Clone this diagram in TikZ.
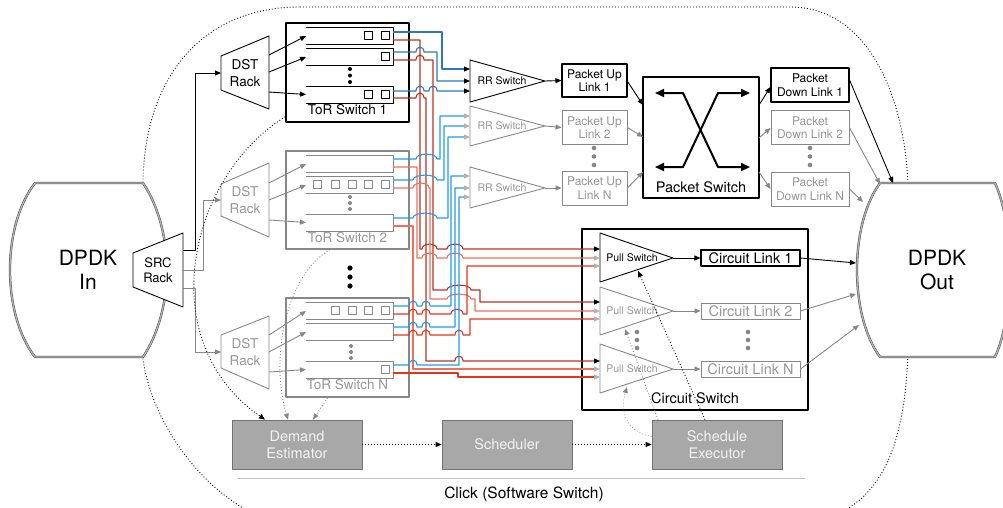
\documentclass[tikz,border=0pt]{standalone}
\usepackage{fontspec}
\setmainfont{TeX Gyre Heros}
\usetikzlibrary{arrows.meta}
\definecolor{ina}{RGB}{135,135,135}
\definecolor{inatx}{RGB}{150,150,150}
\definecolor{tipg}{RGB}{178,178,178}
\definecolor{redA}{RGB}{185,50,30}
\definecolor{redB}{RGB}{240,112,92}
\definecolor{redC}{RGB}{228,52,25}
\definecolor{blueA}{RGB}{45,120,185}
\definecolor{blueB}{RGB}{30,155,240}
\definecolor{boxf}{RGB}{168,168,168}
\definecolor{boxd}{RGB}{115,115,115}
\definecolor{boxt}{RGB}{242,242,242}
\newcommand\fs[2]{\fontsize{#1}{#2}\selectfont}
\newcommand\hop[3]{-- (#1,#3) .. controls (#1,#3-6.5) and (#2,#3-6.5) .. (#2,#3)}
\begin{document}
\begin{tikzpicture}[x=1pt,y=-1pt,line join=round,
  ablk/.style={-{Triangle[length=6pt,width=5pt,color=black]}},
  agry/.style={-{Triangle[length=6pt,width=5pt,color=tipg]}},
  agin/.style={-{Triangle[length=6pt,width=5pt,color=ina]}},
  sact/.style={draw=black,line width=0.9pt},
  sina/.style={draw=ina,line width=0.9pt},
  boxA/.style={draw=black,line width=1.6pt,inner sep=0pt},
  boxG/.style={draw=ina,line width=1.6pt,inner sep=0pt},
  wire/.style={line width=1.1pt},
  dotl/.style={dash pattern=on 0.9pt off 2.1pt,line width=0.9pt},
  txt/.style={inner sep=0pt,align=center},
  dpdk/.style={draw=black!70,line width=0.5pt,double=black!30,double distance=1.3pt,fill=white},
  lnk/.style={draw,line width=1.1pt,inner sep=0pt,align=center,font=\fs{12}{13.5}},
  gbox/.style={draw=boxd,fill=boxf,text=boxt,line width=0.8pt,minimum width=130pt,minimum height=49pt,inner sep=0pt,align=center,font=\fs{14.5}{17}},
]
\useasboundingbox (0,0) rectangle (1003,507);
\clip (0,0) rectangle (1003,507);

% ---------- outer software-switch boundary
\draw[dotl] (300,7) -- (790,7) .. controls (870,7) and (905,100) .. (908,185) -- (908,350)
  .. controls (905,450) and (880,520) .. (790,525) -- (300,525)
  .. controls (230,525) and (155,440) .. (143,360) -- (143,180)
  .. controls (145,80) and (200,7) .. (300,7) -- cycle;

% ---------- DPDK In / Out
\draw[dpdk] (35,183) -- (143,183) .. controls (158,205) and (167,238) .. (167,270)
  .. controls (167,302) and (158,335) .. (143,357) -- (35,357)
  .. controls (18,335) and (10,302) .. (10,270) .. controls (10,238) and (18,205) .. (35,183) -- cycle;
\node[txt,font=\fs{21}{24}] (dpdkin) at (88,270) {DPDK\\In};
\draw[dpdk] (880,183) -- (995,183) .. controls (1005,205) and (1010,238) .. (1010,270)
  .. controls (1010,302) and (1005,335) .. (995,357) -- (880,357)
  .. controls (864,335) and (857,302) .. (857,270) .. controls (857,238) and (864,205) .. (880,183) -- cycle;
\node[txt,font=\fs{21}{24}] (dpdkout) at (937,270) {DPDK\\Out};
\coordinate (outA) at (893,183);
\coordinate (outB) at (880,184);
\coordinate (outC) at (863,202);
\coordinate (outD) at (856,263);
\coordinate (outE) at (856,294);
\coordinate (outF) at (859,325);

% ---------- SRC rack
\draw[sact,fill=white] (133,253) -- (183,233) -- (183,307) -- (133,287) -- cycle;
\node[txt,font=\fs{13}{15}] (src) at (158,270) {SRC\\Rack};
\coordinate (srcA) at (183,250);
\coordinate (srcB) at (183,270);
\coordinate (srcC) at (183,288);

% ---------- DST racks
\draw[sact] (221,56) -- (269,36) -- (269,109) -- (221,90) -- cycle;
\node[txt,font=\fs{13.5}{16.5}] (dst1) at (245,73) {DST\\Rack};
\draw[sina] (221,184) -- (269,163) -- (269,237) -- (221,216) -- cycle;
\node[txt,font=\fs{13.5}{16.5},text=inatx] (dst2) at (245,200) {DST\\Rack};
\draw[sina] (221,335) -- (269,316) -- (269,389) -- (221,368) -- cycle;
\node[txt,font=\fs{13.5}{16.5},text=inatx] (dstN) at (245,352) {DST\\Rack};
\coordinate (dst1in) at (221,73);
\coordinate (dst2in) at (221,200);
\coordinate (dstNin) at (221,352);

\draw[sact,ablk] (srcA) -- (195,250) -- (195,73) -- (dst1in);
\draw[sina,agin] (srcB) -- (203,270) -- (203,200) -- (dst2in);
\draw[sina,agin] (srcC) -- (195,288) -- (195,352) -- (dstNin);

% ---------- ToR switches
\node[boxA,minimum width=123pt,minimum height=99pt] (tor1) at (347.5,72.5) {};
\node[txt,font=\fs{13.5}{16}] (tor1l) at (347.5,110) {ToR Switch 1};
\node[boxG,minimum width=123pt,minimum height=98pt] (tor2) at (347.5,200) {};
\node[txt,font=\fs{13.5}{16},text=inatx] (tor2l) at (347.5,238) {ToR Switch 2};
\node[boxG,minimum width=123pt,minimum height=99pt] (torN) at (347.5,347.5) {};
\node[txt,font=\fs{13.5}{16},text=inatx] (torNl) at (347.5,385) {ToR Switch N};

% rows
\foreach \t in {27,48,86}{\draw[sact] (306,\t) -- (393,\t) -- (393,\t+17) -- (306,\t+17);}
\foreach \t in {155,176,214,302,323,361}{\draw[sina] (306,\t) -- (393,\t) -- (393,\t+17) -- (306,\t+17);}
% port squares
\foreach \x/\y in {368/35.5,385/35.5,385/56.5,368/94.5,385/94.5}{\draw[draw=black,line width=0.8pt] (\x-4,\y-4) rectangle (\x+4,\y+4);}
\foreach \x/\y in {317/184.5,335/184.5,352/184.5,368/184.5,385/184.5,335/310.5,352/310.5,368/310.5,385/310.5,385/369.5}{\draw[draw=ina,line width=0.8pt] (\x-4,\y-4) rectangle (\x+4,\y+4);}
% dots
\foreach \y in {69,75.5,82}{\fill (350,\y) circle (2pt);}
\foreach \y in {197,203,209}{\fill[ina] (350,\y) circle (2pt);}
\foreach \y in {346,352,358}{\fill[ina] (351,\y) circle (2pt);}
\foreach \y in {268,277,286}{\fill (350,\y) circle (2.6pt);}

% DST -> rows
\draw[sact,ablk] (269,55) -- (306,36);
\draw[sact,ablk] (269,72) -- (306,57);
\draw[sact,ablk] (269,92) -- (306,94.5);
\draw[sina,agin] (269,183) -- (306,164);
\draw[sina,agin] (269,200) -- (306,185);
\draw[sina,agin] (269,220) -- (306,222.5);
\draw[sina,agin] (269,335) -- (306,311);
\draw[sina,agin] (269,352) -- (306,332);
\draw[sina,agin] (269,372) -- (306,369.5);

% ---------- RR switches
\draw[sact] (470,60) -- (545,81) -- (470,102) -- cycle;
\node[txt,font=\fs{10.5}{12}] (rr1) at (502,81) {RR Switch};
\draw[sina] (470,106) -- (545,126) -- (470,146) -- cycle;
\node[txt,font=\fs{10.5}{12},text=inatx] (rr2) at (502,126) {RR Switch};
\draw[sina] (470,167) -- (545,188) -- (470,208) -- cycle;
\node[txt,font=\fs{10.5}{12},text=inatx] (rrN) at (502,188) {RR Switch};
\coordinate (rr1a) at (470,69); \coordinate (rr1b) at (470,81); \coordinate (rr1c) at (470,91);
\coordinate (rr2a) at (470,116); \coordinate (rr2b) at (470,126); \coordinate (rr2c) at (470,137);
\coordinate (rrNa) at (470,176); \coordinate (rrNb) at (470,188); \coordinate (rrNc) at (470,197);

% ---------- Pull switches and circuit switch
\node[boxA,minimum width=226pt,minimum height=181pt] (cs) at (695,319.5) {};
\node[txt,font=\fs{14.5}{16}] (csl) at (695,398) {Circuit Switch};
\draw[sact] (600,233) -- (673,258) -- (600,282) -- cycle;
\node[txt,font=\fs{10.5}{12}] (pull1) at (632,258) {Pull Switch};
\draw[sina] (600,287) -- (673,311) -- (600,335) -- cycle;
\node[txt,font=\fs{10.5}{12},text=inatx] (pull2) at (632,311) {Pull Switch};
\draw[sina] (600,344) -- (673,369) -- (600,393) -- cycle;
\node[txt,font=\fs{10.5}{12},text=inatx] (pullN) at (632,369) {Pull Switch};
\coordinate (p1a) at (600,249); \coordinate (p1b) at (600,258); \coordinate (p1c) at (600,266);
\coordinate (p2a) at (600,302); \coordinate (p2b) at (600,311); \coordinate (p2c) at (600,319);
\coordinate (pNa) at (600,361); \coordinate (pNb) at (600,369); \coordinate (pNc) at (600,377);
\foreach \y in {332,340,348}{\fill[ina] (637,\y) circle (2.3pt); \fill[ina] (748,\y) circle (2.3pt);}

% ---------- wires: ToR row ports
\coordinate (t1b1) at (393,32);  \coordinate (t1r1) at (393,40);
\coordinate (t1b2) at (393,52);  \coordinate (t1r2) at (393,60);
\coordinate (t1b3) at (393,91);  \coordinate (t1r3) at (393,98);
\coordinate (t2b1) at (393,159); \coordinate (t2r1) at (393,167);
\coordinate (t2b2) at (393,180); \coordinate (t2r2) at (393,188);
\coordinate (t2b3) at (393,218); \coordinate (t2r3) at (393,226);
\coordinate (tNb1) at (393,306); \coordinate (tNr1) at (393,314);
\coordinate (tNb2) at (393,327); \coordinate (tNr2) at (393,335);
\coordinate (tNb3) at (393,365); \coordinate (tNr3) at (393,373);

% red wires
\draw[wire,redA,ablk] (t1r1) -- (420,40) -- (420,249) \hop{422}{437}{249} \hop{447}{463}{249} -- (p1a);
\draw[wire,redA,ablk] (t1r2) \hop{416}{424}{60} -- (433,60) -- (433,290) \hop{447}{471}{290} -- (480,290) -- (480,302) -- (p2a);
\draw[wire,redA,ablk] (t1r3) \hop{416}{424}{98} -- (426,98) -- (426,361) \hop{455}{463}{361} -- (pNa);
\draw[wire,redB,agry] (t2r1) -- (417,167) -- (417,258) \hop{422}{437}{258} \hop{447}{463}{258} -- (p1b);
\draw[wire,redB,agry] (t2r2) \hop{413}{429}{188} -- (430,188) -- (430,299) \hop{447}{471}{299} -- (475,299) -- (475,311) -- (p2b);
\draw[wire,redB,agry] (t2r3) -- (413,226) -- (413,369) -- (pNb);
\draw[wire,redC,agry] (tNr1) \hop{409}{417}{314} \hop{422}{430}{314} \hop{451}{463}{314} -- (467,314) -- (467,266) -- (p1c);
\draw[wire,redC,agry] (tNr2) \hop{409}{417}{335} \hop{422}{430}{335} \hop{455}{463}{335} -- (470,335) -- (470,319) -- (p2c);
\draw[wire,redC,agry] (tNr3) -- (458,373) -- (458,377) -- (pNc);

% blue wires
\draw[wire,blueA,ablk] (t1b1) -- (442,32) -- (442,69) -- (rr1a);
\draw[wire,blueA,ablk] (t1b2) \hop{416}{424}{52} -- (437,52) -- (437,81) -- (rr1b);
\draw[wire,blueA,ablk] (t1b3) \hop{416}{424}{91} \hop{429}{437}{91} -- (rr1c);
\draw[wire,blueB,agry] (t2b1) \hop{416}{437}{159} -- (440,159) -- (440,116) -- (rr2a);
\draw[wire,blueB,agry] (t2b2) \hop{413}{437}{180} -- (444,180) -- (444,126) -- (rr2b);
\draw[wire,blueB,agry] (t2b3) \hop{413}{437}{218} -- (448,218) -- (448,137) -- (rr2c);
\draw[wire,blueB,agry] (tNb1) \hop{409}{417}{306} \hop{422}{430}{306} -- (451,306) -- (451,176) -- (rrNa);
\draw[wire,blueB,agry] (tNb2) \hop{409}{417}{327} \hop{422}{430}{327} -- (455,327) -- (455,188) -- (rrNb);
\draw[wire,blueB,agry] (tNb3) \hop{409}{417}{365} -- (459,365) -- (459,197) -- (rrNc);

% ---------- packet up links, packet switch, down links
\node[lnk,draw=black,minimum width=65pt,minimum height=33pt] (up1) at (594.5,80.5) {Packet Up\\Link 1};
\node[lnk,draw=ina,text=inatx,line width=0.9pt,minimum width=65pt,minimum height=34pt] (up2) at (594.5,127.5) {Packet Up\\Link 2};
\node[lnk,draw=ina,text=inatx,line width=0.9pt,minimum width=65pt,minimum height=34pt] (upN) at (594.5,188) {Packet Up\\Link N};
\foreach \y in {148,156.5,165}{\fill[ina] (594,\y) circle (2.3pt); \fill[ina] (810,\y) circle (2.3pt);}
\draw[sact,ablk] (545,81) -- (up1.west);
\draw[sina,agin] (545,126) -- (up2.west);
\draw[sina,agin] (545,188) -- (upN.west);

\node[boxA,minimum width=116pt,minimum height=121pt] (ps) at (701,137.5) {};
\node[txt,font=\fs{14.5}{16}] (psl) at (701,187) {Packet Switch};
\draw[line width=2pt,{Triangle[length=9pt,width=8pt]}-{Triangle[length=9pt,width=8pt]}] (655,93) -- (683,93) -- (718,167) -- (750,167);
\draw[line width=2pt,{Triangle[length=9pt,width=8pt]}-{Triangle[length=9pt,width=8pt]}] (655,167) -- (683,167) -- (718,93) -- (750,93);
\coordinate (psi1) at (643,105); \coordinate (psi2) at (643,137); \coordinate (psi3) at (643,172);
\coordinate (pso1) at (759,105); \coordinate (pso2) at (759,138); \coordinate (pso3) at (759,172);
\draw[sact,ablk] ([yshift=-1pt]up1.east) -- (psi1);
\draw[sina,agin] (up2.east) -- (psi2);
\draw[sina,agin] (upN.east) -- (psi3);

\node[lnk,draw=black,minimum width=78pt,minimum height=34pt] (dn1) at (810,85) {Packet\\Down Link 1};
\node[lnk,draw=ina,text=inatx,line width=0.9pt,minimum width=78pt,minimum height=34pt] (dn2) at (810,127.5) {Packet\\Down Link 2};
\node[lnk,draw=ina,text=inatx,line width=0.9pt,minimum width=78pt,minimum height=34pt] (dnN) at (810,189) {Packet\\Down Link N};
\draw[sact,ablk] (pso1) -- ([yshift=-2pt]dn1.west);
\draw[sina,agin] (pso2) -- ([yshift=-0.5pt]dn2.west);
\draw[sina,agin] (pso3) -- (dnN.west);
\draw[sact,ablk] ([yshift=5pt]dn1.east) -- (outA);
\draw[sina,agin] (dn2.east) -- (outB);
\draw[sina,agin] (dnN.east) -- (outC);

% ---------- circuit links
\node[lnk,draw=black,font=\fs{14.5}{16},minimum width=99pt,minimum height=16pt] (cl1) at (750.5,258) {Circuit Link 1};
\node[lnk,draw=ina,text=inatx,line width=0.9pt,font=\fs{14.5}{16},minimum width=99pt,minimum height=16pt] (cl2) at (750.5,311) {Circuit Link 2};
\node[lnk,draw=ina,text=inatx,line width=0.9pt,font=\fs{14.5}{16},minimum width=99pt,minimum height=16pt] (clN) at (750.5,369) {Circuit Link N};
\draw[sact,ablk] (673,258) -- (cl1.west);
\draw[sina,agin] (673,311) -- (cl2.west);
\draw[sina,agin] (673,369) -- (clN.west);
\draw[sact,ablk] (cl1.east) -- (outD);
\draw[sina,agin] (cl2.east) -- (outE);
\draw[sina,agin] (clN.east) -- (outF);

% ---------- control plane
\node[gbox] (de) at (297,444.5) {Demand\\Estimator};
\node[gbox] (sch) at (507,444.5) {Scheduler};
\node[gbox] (ex) at (717,444.5) {Schedule\\Executor};
\draw[dotl,ablk] (de.east) -- (sch.west);
\draw[dotl,ablk] (sch.east) -- (ex.west);
\draw[draw=black!25,line width=1pt] (238,478) -- (805,478);
\node[txt,font=\fs{15.5}{18}] (click) at (524,494) {Click (Software Switch)};

\coordinate (p1foot) at (638,271);
\coordinate (p2foot) at (625,329);
\coordinate (pNfoot) at (627,387);
\draw[dotl,ablk] ([xshift=-12pt]ex.north) -- (p1foot);
\draw[dotl,draw=ina,agin] ([xshift=-59pt]ex.north) -- (p2foot);
\draw[dotl,draw=ina,line width=0.6pt,agin] ([yshift=8pt]ex.west) .. controls (625,432) and (620,410) .. (pNfoot);

\draw[dotl,ablk] ([yshift=6pt]tor1.south west) .. controls (190,175) and (150,340) .. ([xshift=-32pt]de.north);
\draw[dotl,draw=ina,agin] ([xshift=-17.5pt]tor2.south) .. controls (285,275) and (270,360) .. ([xshift=-9pt]de.north);
\draw[dotl,draw=ina,agin] ([xshift=-20pt]torN.south) -- ([xshift=16pt]de.north);
\end{tikzpicture}
\end{document}
